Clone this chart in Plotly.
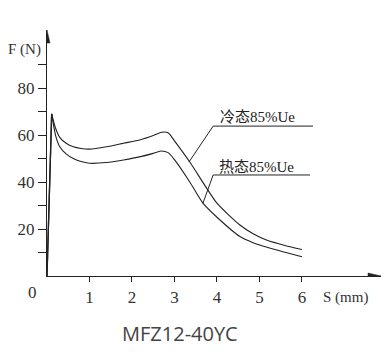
import plotly.graph_objects as go

# ---- data ----
s_cold = [0, 0.11, 0.2, 0.3, 0.45, 0.62, 0.8, 1.0, 1.4, 1.8, 2.2, 2.5, 2.7, 2.85, 3.0, 3.36, 3.7, 4.0, 4.54, 4.85, 5.18, 5.6, 6.0]
f_cold = [0, 69, 63, 59, 56.5, 55, 54.3, 54, 55, 56.5, 58, 59.8, 61.2, 61, 57.5, 48.5, 39, 31, 21.7, 18.0, 15.2, 13.0, 11.3]
s_hot = [0, 0.11, 0.2, 0.3, 0.45, 0.62, 0.8, 1.0, 1.4, 1.8, 2.2, 2.5, 2.68, 2.85, 3.0, 3.36, 3.67, 4.0, 4.54, 4.85, 5.18, 5.6, 6.0]
f_hot = [0, 69, 60, 55, 52, 50, 48.7, 48, 48.3, 49.4, 50.8, 52.2, 53.2, 52.5, 49.5, 40, 31, 25, 16.8, 14.2, 12.2, 10.1, 8.2]

x_ticks = [1, 2, 3, 4, 5, 6]
y_ticks = [20, 40, 60, 80]
y_minor = [10, 30, 50, 70, 90]
label_cold = "冷态85%Ue"
label_hot = "热态85%Ue"
title = "MFZ12-40YC"

X_MAX = 7.86
Y_MAX = 104.7
LINE = "#222222"
SERIF = "Liberation Serif, Noto Sans CJK SC, serif"

fig = go.Figure()
for s, f in [(s_cold, f_cold), (s_hot, f_hot)]:
    fig.add_trace(go.Scatter(x=s[:2], y=f[:2], mode="lines",
                             line=dict(color=LINE, width=1.3), hoverinfo="skip"))
    fig.add_trace(go.Scatter(x=s[1:], y=f[1:], mode="lines",
                             line=dict(color=LINE, width=1.1, shape="spline", smoothing=0.7),
                             hoverinfo="skip"))

# leader lines and underlines
leaders = [
    ((3.34, 48.5), (3.91, 63.8), 6.26),
    ((3.67, 31.0), (3.91, 43.0), 6.19),
]
for (x0, y0), (x1, y1), xe in leaders:
    fig.add_shape(type="line", x0=x0, y0=y0, x1=x1, y1=y1, line=dict(color=LINE, width=1))
    fig.add_shape(type="line", x0=x1, y0=y1, x1=xe, y1=y1, line=dict(color=LINE, width=1))

# arrow heads
fig.add_shape(type="path", xref="x", yref="y", xsizemode="pixel", ysizemode="pixel",
              xanchor=X_MAX, yanchor=0, path="M 0 0 L -13 3 L -13 -3 Z",
              fillcolor=LINE, line=dict(color=LINE, width=0.5))
fig.add_shape(type="path", xref="x", yref="y", xsizemode="pixel", ysizemode="pixel",
              xanchor=0, yanchor=Y_MAX, path="M 0 0 L -3 -13 L 3 -13 Z",
              fillcolor=LINE, line=dict(color=LINE, width=0.5))

fig.add_annotation(x=4.02, y=67.7, text=label_cold, showarrow=False, xanchor="left", yanchor="middle",
                   font=dict(family=SERIF, size=15, color="#222"))
fig.add_annotation(x=4.0, y=46.4, text=label_hot, showarrow=False, xanchor="left", yanchor="middle",
                   font=dict(family=SERIF, size=15, color="#222"))
fig.add_annotation(xref="paper", yref="paper", x=-0.042, y=0, text="0", showarrow=False,
                   xanchor="center", yanchor="top", yshift=-5,
                   font=dict(family=SERIF, size=17, color="#333"))
fig.add_annotation(xref="paper", yref="paper", x=-0.123, y=1, text="F (N)", showarrow=False,
                   xanchor="left", yanchor="top", yshift=-9,
                   font=dict(family=SERIF, size=15, color="#333"))
fig.add_annotation(xref="paper", yref="paper", x=0.82, y=0, text="S (mm)", showarrow=False,
                   xanchor="left", yanchor="top", yshift=-11,
                   font=dict(family=SERIF, size=15, color="#333"))
fig.add_annotation(xref="paper", yref="paper", x=0.398, y=0, text=title, showarrow=False,
                   xanchor="center", yanchor="top", yshift=-42,
                   font=dict(family="Open Sans, Noto Sans, sans-serif", size=20, color="#444"))

# the page body has an 8px margin, so the figure is shifted by (8, 8)
fig.update_layout(
    width=376, height=347,
    margin=dict(l=39, r=3, t=22, b=79),
    paper_bgcolor="white", plot_bgcolor="white",
    showlegend=False,
    xaxis=dict(range=[0, X_MAX], showgrid=False, zeroline=False, showline=True,
               linecolor=LINE, linewidth=1.2, tickvals=x_ticks, ticks="outside",
               ticklen=5, tickcolor=LINE, tickfont=dict(family=SERIF, size=17, color="#333")),
    yaxis=dict(range=[0, Y_MAX], showgrid=False, zeroline=False, showline=True,
               linecolor=LINE, linewidth=1.2, tickvals=y_ticks, ticks="outside",
               ticklen=8, tickcolor=LINE, tickfont=dict(family=SERIF, size=17, color="#333"),
               minor=dict(tickvals=y_minor, ticks="outside", ticklen=8, tickcolor=LINE)),
)

fig.write_html("out.html")
